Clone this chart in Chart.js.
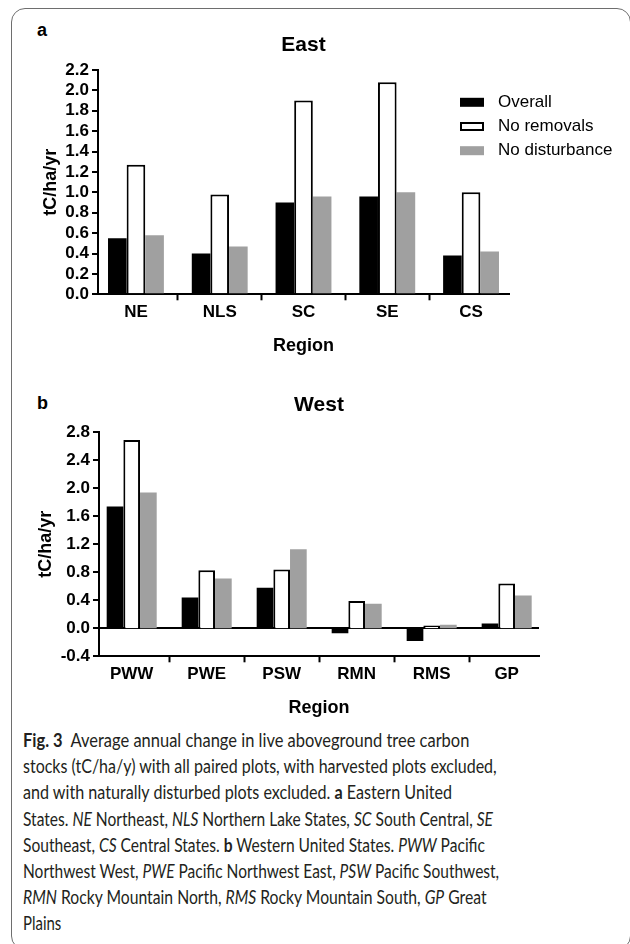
<!DOCTYPE html>
<html>
<head>
<meta charset="utf-8">
<script src="https://cdn.jsdelivr.net/npm/chart.js@4.4.1/dist/chart.umd.min.js"></script>
<style>
  body { margin: 0; width: 630px; height: 944px; overflow: hidden; background: #fff; position: relative;
         font-family: "Liberation Sans", Arial, sans-serif; }
  #frame { position: absolute; left: 11px; top: 8px; width: 620px; height: 942px; box-sizing: border-box;
           border: 1.5px solid #6e6e6e; border-radius: 14px; }
  .tag { position: absolute; left: 37px; font-weight: bold; font-size: 18px; line-height: 20px; color: #000; }
  canvas { position: absolute; left: 0; }
  #caption { position: absolute; left: 23px; top: 727px; font-family: Lato, "Noto Sans", sans-serif;
             font-size: 18.5px; line-height: 26.2px; color: #231f20; }
  #caption div { white-space: nowrap; height: 26.2px; }
  #caption span.ln { display: inline-block; transform-origin: 0 50%; }
</style>
</head>
<body>
<div id="frame"></div>
<div class="tag" style="top:20px">a</div>
<div class="tag" style="top:393px">b</div>
<canvas id="east" width="630" height="360" style="top:0"></canvas>
<canvas id="west" width="630" height="360" style="top:360px"></canvas>
<div id="caption">
  <div data-r="469"><span class="ln"><b>Fig. 3</b>&nbsp; Average annual change in live aboveground tree carbon</span></div>
  <div data-r="497"><span class="ln">stocks (tC/ha/y) with all paired plots, with harvested plots excluded,</span></div>
  <div data-r="452"><span class="ln">and with naturally disturbed plots excluded. <b>a</b> Eastern United</span></div>
  <div data-r="493"><span class="ln">States. <i>NE</i> Northeast, <i>NLS</i> Northern Lake States, <i>SC</i> South Central, <i>SE</i></span></div>
  <div data-r="485"><span class="ln">Southeast, <i>CS</i> Central States. <b>b</b> Western United States. <i>PWW</i> Pacific</span></div>
  <div data-r="499"><span class="ln">Northwest West, <i>PWE</i> Pacific Northwest East, <i>PSW</i> Pacific Southwest,</span></div>
  <div data-r="487"><span class="ln"><i>RMN</i> Rocky Mountain North, <i>RMS</i> Rocky Mountain South, <i>GP</i> Great</span></div>
  <div data-r="61"><span class="ln">Plains</span></div>
</div>
<script>
// panel a - East
const regionsEast = ["NE", "NLS", "SC", "SE", "CS"];
const overallEast = [0.55, 0.40, 0.90, 0.96, 0.38];
const noRemovalsEast = [1.27, 0.98, 1.90, 2.08, 1.00];
const noDisturbanceEast = [0.58, 0.47, 0.96, 1.00, 0.42];

// panel b - West
const regionsWest = ["PWW", "PWE", "PSW", "RMN", "RMS", "GP"];
const overallWest = [1.74, 0.44, 0.58, -0.07, -0.18, 0.07];
const noRemovalsWest = [2.69, 0.83, 0.84, 0.39, 0.04, 0.64];
const noDisturbanceWest = [1.94, 0.71, 1.13, 0.35, 0.05, 0.47];

const seriesNames = ["Overall", "No removals", "No disturbance"];

const FONT = '"Liberation Sans", Arial, sans-serif';

// legend drawn beside the East plot
const sideLegend = {
  id: "sideLegend",
  afterDraw(chart, args, o) {
    if (!o.show) return;
    const ctx = chart.ctx;
    ctx.save();
    ctx.font = "17px " + FONT;
    ctx.textBaseline = "middle";
    chart.data.datasets.forEach((ds, i) => {
      const y = o.y + i * o.gap;
      ctx.fillStyle = ds.backgroundColor;
      ctx.fillRect(o.x, y - 4.5, 24, 9);
      if (ds.borderWidth) {
        ctx.lineWidth = 2;
        ctx.strokeStyle = ds.borderColor;
        ctx.strokeRect(o.x + 1, y - 3.5, 22, 7);
      }
      ctx.fillStyle = "#000";
      ctx.fillText(ds.label, o.x + 38, y);
    });
    ctx.restore();
  }
};

function toPoints(vals) {
  return vals.map((v, i) => ({ x: i, y: v }));
}

function makeChart(id, cfg) {
  const datasets = [
    { label: seriesNames[0], data: toPoints(cfg.overall), backgroundColor: "#000", borderWidth: 0 },
    { label: seriesNames[1], data: toPoints(cfg.noRemovals), backgroundColor: "#fff", borderColor: "#000", borderWidth: 2 },
    { label: seriesNames[2], data: toPoints(cfg.noDisturbance), backgroundColor: "#a0a0a0", borderWidth: 0 }
  ];
  return new Chart(document.getElementById(id), {
    type: "bar",
    data: { datasets },
    plugins: [sideLegend],
    options: {
      responsive: false,
      animation: false,
      devicePixelRatio: 1,
      categoryPercentage: 0.667,
      barPercentage: 1,
      layout: { padding: { top: 20, left: 0, right: cfg.padRight, bottom: cfg.padBottom } },
      plugins: {
        legend: { display: false },
        tooltip: { enabled: false },
        title: {
          display: true, text: cfg.title, fullSize: false, color: "#000",
          font: { family: FONT, size: 21, weight: "bold" },
          padding: { top: 12.4, bottom: cfg.titleGap }
        },
        sideLegend: cfg.legend || { show: false }
      },
      scales: {
        x: {
          type: "linear",
          position: "bottom",
          min: cfg.xMin,
          max: cfg.xMax,
          offset: false,
          grid: { drawOnChartArea: false, drawTicks: true, tickLength: 6, tickColor: "#000", tickWidth: 2, color: "#000" },
          border: { display: true, color: "#000", width: 2 },
          ticks: {
            stepSize: 1, includeBounds: false, autoSkip: false, maxRotation: 0, padding: 2,
            color: "#000", font: { family: FONT, size: 17, weight: "bold" },
            callback: v => cfg.regions[v] ?? ""
          },
          title: { display: true, text: "Region", color: "#000", padding: 0,
                   font: { family: FONT, size: 18, weight: "bold" } },
          afterFit: s => { s.height = 63; }
        },
        y: {
          min: cfg.yMin,
          max: cfg.yMax,
          grid: {
            drawOnChartArea: cfg.zeroLine, tickLength: 6, tickColor: "#000", tickWidth: 2, lineWidth: 2,
            color: c => (c.tick && Math.abs(c.tick.value) < 1e-9 && cfg.zeroLine) ? "#000" : "rgba(0,0,0,0)"
          },
          border: { display: true, color: "#000", width: 2 },
          ticks: {
            stepSize: cfg.yStep, autoSkip: false, padding: 3, color: "#000",
            font: { family: FONT, size: 17, weight: "bold" },
            callback: v => (Math.abs(v) < 1e-9 ? 0 : v).toFixed(1)
          },
          title: { display: true, text: "tC/ha/yr", color: "#000", padding: { top: cfg.yTitlePad, bottom: 0 },
                   font: { family: FONT, size: 18, weight: "bold" } },
          afterFit: s => { s.width = cfg.yWidth; }
        }
      }
    }
  });
}

makeChart("east", {
  title: "East", regions: regionsEast,
  overall: overallEast, noRemovals: noRemovalsEast, noDisturbance: noDisturbanceEast,
  xMin: -0.453, xMax: 4.453, yMin: 0, yMax: 2.2, yStep: 0.2, zeroLine: false,
  yWidth: 98, yTitlePad: 40, padRight: 121, padBottom: 2.7, titleGap: 12.4,
  legend: { show: true, x: 460, y: 102.3, gap: 24.2 }
});

makeChart("west", {
  title: "West", regions: regionsWest,
  overall: overallWest, noRemovals: noRemovalsWest, noDisturbance: noDisturbanceWest,
  xMin: -0.436, xMax: 5.431, yMin: -0.4, yMax: 2.8, yStep: 0.4, zeroLine: true,
  yWidth: 99, yTitlePad: 35, padRight: 91, padBottom: 0.7, titleGap: 14.7
});

// squeeze caption lines to the widths of the original typesetting
function fitCaption() {
  document.querySelectorAll("#caption div").forEach(d => {
    const span = d.querySelector("span");
    span.style.transform = "none";
    const w = span.offsetWidth;
    const target = parseFloat(d.dataset.r) - 23;
    span.style.transform = "scaleX(" + (target / w) + ")";
  });
}
fitCaption();
if (document.fonts) document.fonts.ready.then(fitCaption);
</script>
</body>
</html>
